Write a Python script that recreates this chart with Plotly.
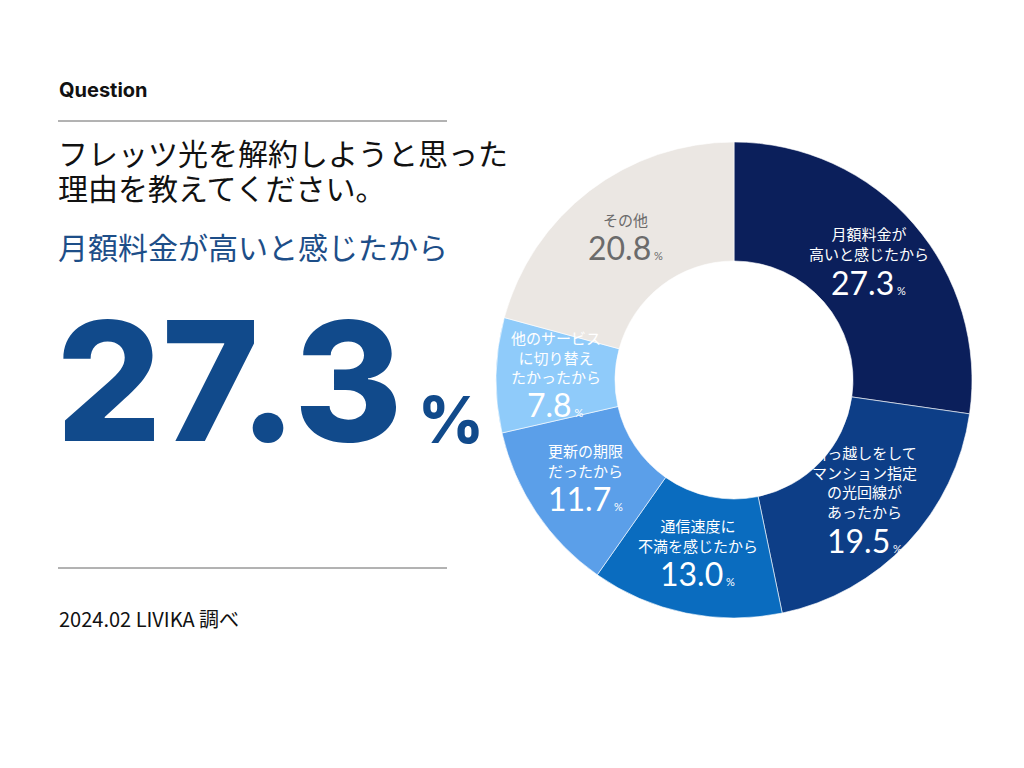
import math
import plotly.graph_objects as go

# ---- data ----
labels = ["月額料金が<br>高いと感じたから",
          "引っ越しをして<br>マンション指定<br>の光回線が<br>あったから",
          "通信速度に<br>不満を感じたから",
          "更新の期限<br>だったから",
          "他のサービス<br>に切り替え<br>たかったから",
          "その他"]
values = [27.3, 19.5, 13.0, 11.7, 7.8, 20.8]
colors = ["#0b1f5b", "#0d3e87", "#0a6cbf", "#5b9fe9", "#8fcbfa", "#ebe7e3"]
text_colors = ["#ffffff", "#ffffff", "#ffffff", "#ffffff", "#ffffff", "#6b6b6b"]

question_label = "Question"
title_lines = ["フレッツ光を解約しようと思った", "理由を教えてください。"]
highlight_label = "月額料金が高いと感じたから"
highlight_value = values[0]
source_text = "2024.02 LIVIKA 調べ"

W, H = 1024, 768
OFF = 8  # page body margin
JP = "Noto Sans CJK JP"
NUM = "Lato"


def px(x):
    return (x - OFF) / W


def py(y):
    return 1 - (y - OFF) / H


# pie geometry (screen pixels)
CX, CY, R = 734, 380, 238
HOLE = 0.5
dom_x = [px(CX - R), px(CX + R)]
dom_y = [py(CY + R), py(CY - R)]

fig = go.Figure()
fig.add_trace(go.Pie(
    labels=[l.replace("<br>", "") for l in labels], values=values,
    sort=False, direction="clockwise", rotation=0, hole=HOLE,
    marker=dict(colors=colors, line=dict(color="rgba(255,255,255,0.6)", width=1)),
    textinfo="none", hoverinfo="label+value", showlegend=False,
    domain=dict(x=dom_x, y=dom_y),
))

ann = []
# slice labels positioned from cumulative angles
total = sum(values)
cum = 0.0
r_mid = R * (1 + HOLE) / 2
LINE_H = 19
NUM_H = 32
for lab, v, tc in zip(labels, values, text_colors):
    mid = (cum + v / 2) / total * 2 * math.pi
    cum += v
    cx = CX + r_mid * math.sin(mid)
    cy = CY - r_mid * math.cos(mid)
    n = lab.count("<br>") + 1
    h = n * LINE_H + NUM_H
    top = cy - h / 2
    ann.append(dict(x=px(cx), y=py(top + n * LINE_H), xanchor="center", yanchor="bottom",
                    text=lab, showarrow=False, align="center",
                    font=dict(family=JP, size=15, color=tc)))
    ann.append(dict(x=px(cx), y=py(top + n * LINE_H + NUM_H / 2), xanchor="center", yanchor="middle",
                    text=f"<span style='font-size:32px'>{v:.1f}</span><span style='font-size:11px'> %</span>",
                    showarrow=False, font=dict(family=NUM, size=32, color=tc, weight=400)))

# left side texts
ann.append(dict(x=px(57), y=py(90), xanchor="left", yanchor="middle", text=f"<b>{question_label}</b>",
                showarrow=False, font=dict(family="Inter", size=20, color="#111111")))
for i, t in enumerate(title_lines):
    ann.append(dict(x=px(56), y=py(152 + 35 * i), xanchor="left", yanchor="middle", text=t,
                    showarrow=False, font=dict(family=JP, size=30, color="#111111")))
ann.append(dict(x=px(56), y=py(246), xanchor="left", yanchor="middle", text=highlight_label,
                showarrow=False, font=dict(family=JP, size=30, color="#1d4e88")))
ann.append(dict(x=px(54), y=py(380), xanchor="left", yanchor="middle", text=f"{highlight_value:.1f}",
                showarrow=False, font=dict(family="Inter", size=166, color="#114a8b", weight=800)))
ann.append(dict(x=px(416), y=py(460), xanchor="left", yanchor="bottom", text="%",
                showarrow=False, font=dict(family="Inter", size=64, color="#114a8b", weight=800)))
ann.append(dict(x=px(57), y=py(618), xanchor="left", yanchor="middle", text=source_text,
                showarrow=False, font=dict(family=JP, size=20, color="#111111")))

shapes = [
    dict(type="line", xref="paper", yref="paper", x0=px(58), x1=px(447), y0=py(121), y1=py(121),
         line=dict(color="#666666", width=1)),
    dict(type="line", xref="paper", yref="paper", x0=px(58), x1=px(447), y0=py(568), y1=py(568),
         line=dict(color="#666666", width=1)),
]

fig.update_layout(width=W, height=H, margin=dict(l=0, r=0, t=0, b=0),
                  paper_bgcolor="#ffffff", plot_bgcolor="#ffffff",
                  annotations=ann, shapes=shapes)
fig.write_html("out.html")
